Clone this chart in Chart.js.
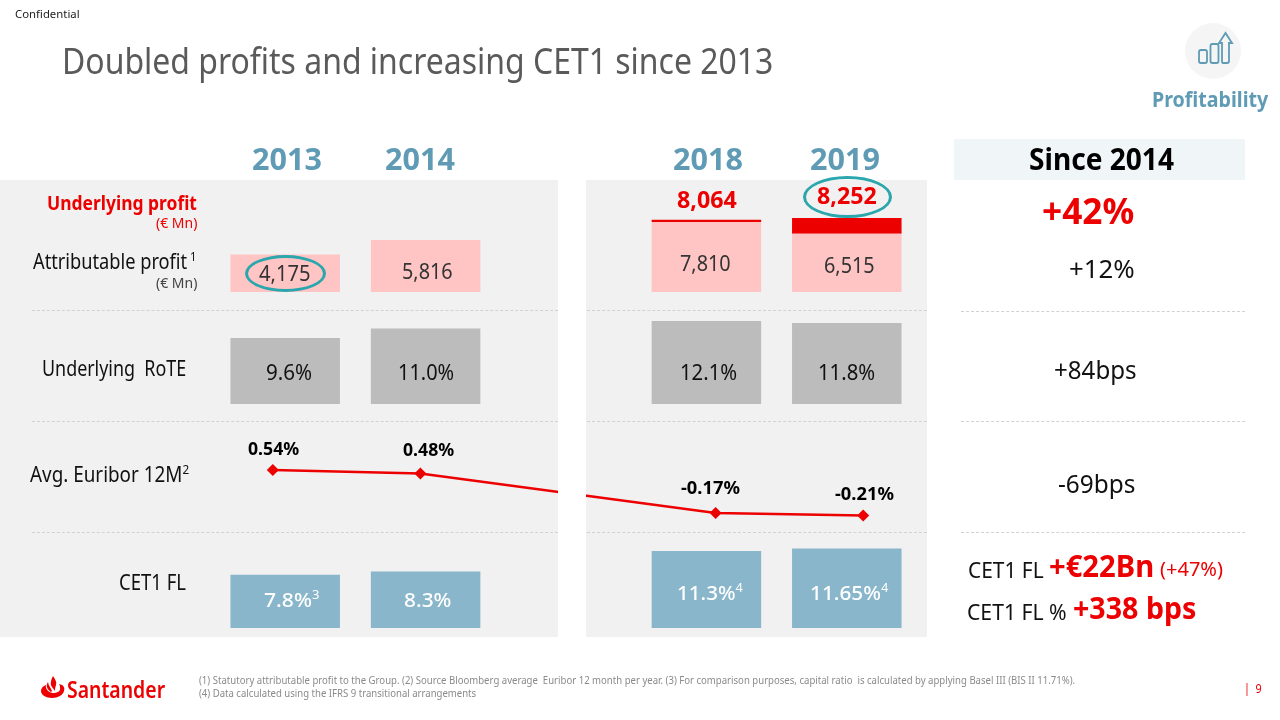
<!DOCTYPE html>
<html>
<head>
<meta charset="utf-8">
<title>Doubled profits</title>
<script src="https://cdn.jsdelivr.net/npm/chart.js@4"></script>
<style>
  html, body { margin: 0; padding: 0; background: #fff; }
  #page { position: relative; width: 1280px; height: 720px; overflow: hidden; font-family: "Noto Sans", sans-serif; }
  #page canvas { position: absolute; z-index: 1; }
  .box { position: absolute; }
  .dash { position: absolute; height: 0; border-top: 1px dashed #d2d2d2; }
  .txt { position: absolute; white-space: nowrap; z-index: 3; line-height: 1.2; transform-origin: 0 50%; }
  .txt sup { font-size: 62%; line-height: 0; vertical-align: 0.65em; font-weight: 400; }
  .oval { position: absolute; border: 3px solid #2aa6ad; border-radius: 50%; box-sizing: border-box; z-index: 4; }
  svg { position: absolute; left: 0; top: 0; z-index: 2; }
</style>
</head>
<body>
<div id="page">
  <div class="box" style="left:0;top:180px;width:558px;height:457px;background:#f1f1f1"></div>
  <div class="box" style="left:586px;top:180px;width:341px;height:457px;background:#f1f1f1"></div>
  <div class="box" style="left:954px;top:139px;width:291px;height:41px;background:#f0f5f8"></div>
  <div class="dash" style="left:32px;top:310px;width:526px"></div>
  <div class="dash" style="left:32px;top:421px;width:526px"></div>
  <div class="dash" style="left:32px;top:532px;width:526px"></div>
  <div class="dash" style="left:587px;top:310px;width:340px"></div>
  <div class="dash" style="left:587px;top:421px;width:340px"></div>
  <div class="dash" style="left:587px;top:532px;width:340px"></div>
  <div class="dash" style="left:961px;top:311px;width:284px"></div>
  <div class="dash" style="left:961px;top:421px;width:284px"></div>
  <div class="dash" style="left:961px;top:532px;width:284px"></div>

  <canvas id="profitChart" width="702" height="112" style="left:215px;top:180px"></canvas>
  <canvas id="roteChart" width="702" height="92" style="left:215px;top:312px"></canvas>
  <canvas id="euriborChart" width="738" height="105" style="left:199px;top:425px"></canvas>
  <canvas id="cetChart" width="702" height="92" style="left:215px;top:536px"></canvas>

  <!-- the line is cut between the two panels -->
  <div class="box" style="left:558px;top:425px;width:28px;height:105px;background:#fff;z-index:2"></div>

  <div class="oval" style="left:245px;top:255px;width:81px;height:37px"></div>
  <div class="oval" style="left:803px;top:176px;width:89px;height:42px"></div>

  <svg width="1280" height="720">
    <circle cx="1213" cy="51" r="28" fill="#f5f5f5"/>
    <g fill="none" stroke="#5f9bb5" stroke-width="1.8">
      <rect x="1199" y="50" width="8" height="13" rx="2"/>
      <rect x="1210.5" y="44" width="8" height="19" rx="2"/>
      <path d="M1223 63 h4 q2 0 2 -2 V43 h3 L1225.5 33 L1219 43 h3 V61 q0 2 1 2 z"/>
    </g>
    <g fill="#ec0000">
      <path d="M53 676 c2 3 4 6 3 9 c-1 3 -1 4 -1 6 c-3 -4 -5 -6 -4 -9 c0 -2 1 -4 2 -6 z"/>
      <path d="M48 682 c0 3 3 6 4 9 l-1 1 c-3 -2 -5 -5 -4 -8 z"/>
      <path d="M59 684 c5 1 6 4 5 7 c-1 4 -6 7 -12 7 c-6 0 -11 -3 -11 -7 c0 -3 2 -5 5 -6 c-1 4 3 8 7 8 c4 0 8 -2 7 -5 c0 -1 0 -3 -1 -4 z"/>
    </g>
  </svg>
</div>

<script>
// values
const years = ["2013", "2014", "", "2018", "2019"];
const attributableProfit = [4175, 5816, null, 7810, 6515];
const underlyingExtra = [null, null, null, 254, 1737];
const underlyingProfit = [null, null, null, 8064, 8252];
const underlyingRote = [9.6, 11.0, null, 12.1, 11.8];
const avgEuribor = [0.54, 0.48, null, -0.17, -0.21];
const cet1 = [7.8, 8.3, null, 11.3, 11.65];

const RED = "#ec0000";
const PINK = "#ffc4c4";
const GREY = "#bcbcbc";
const BLUE = "#89b6ca";
const TEAL = "#5f9bb5";
const DARK = "#333333";

function commonOptions(yMin, yMax, stacked) {
    return {
        responsive: false,
        animation: false,
        events: [],
        layout: { padding: 0, autoPadding: false },
        plugins: { legend: { display: false }, tooltip: { enabled: false } },
        scales: {
            x: { display: false, stacked: stacked, offset: true },
            y: { display: false, stacked: stacked, min: yMin, max: yMax }
        }
    };
}

function barSet(data, color) {
    return { data: data, backgroundColor: color, categoryPercentage: 1, barPercentage: 0.78 };
}

new Chart(document.getElementById("profitChart"), {
    type: "bar",
    data: { labels: years, datasets: [barSet(attributableProfit, PINK), barSet(underlyingExtra, RED)] },
    options: commonOptions(0, 12500, true)
});

new Chart(document.getElementById("roteChart"), {
    type: "bar",
    data: { labels: years, datasets: [barSet(underlyingRote, GREY)] },
    options: commonOptions(0, 13.4, false)
});

new Chart(document.getElementById("euriborChart"), {
    type: "line",
    data: {
        labels: years,
        datasets: [{
            data: avgEuribor,
            borderColor: RED,
            borderWidth: 2.5,
            tension: 0,
            spanGaps: true,
            pointStyle: "rectRot",
            pointRadius: 6,
            pointBackgroundColor: RED,
            pointBorderColor: RED,
            pointBorderWidth: 0
        }]
    },
    options: commonOptions(-0.449, 1.28, false)
});

new Chart(document.getElementById("cetChart"), {
    type: "bar",
    data: { labels: years, datasets: [barSet(cet1, BLUE)] },
    options: commonOptions(0, 13.5, false)
});

// text is stretched a little so that it fills the same span as in the slide
function put(html, left, right, cy, size, color, weight) {
    const el = document.createElement("div");
    el.className = "txt";
    el.innerHTML = html;
    el.style.fontSize = size + "px";
    el.style.color = color;
    if (weight) el.style.fontWeight = weight;
    document.getElementById("page").appendChild(el);
    el.style.left = left + "px";
    el.style.top = (cy - el.offsetHeight / 2 - size * 0.015) + "px";
    el.style.transform = "scaleX(" + ((right - left) / el.offsetWidth) + ")";
}

function money(v) { return v.toLocaleString("en-US"); }
function pct(v, digits) { return v.toFixed(digits) + "%"; }

const B = 700;

put("Confidential", 15, 80, 14, 11, "#222");
put("Doubled profits and increasing CET1 since 2013", 62, 773, 61, 36, "#5a5a5a");
put("Profitability", 1152, 1268, 98, 22, TEAL, B);

put(years[0], 252, 322, 159, 31, TEAL, B);
put(years[1], 385, 455, 159, 31, TEAL, B);
put(years[3], 673, 743, 159, 31, TEAL, B);
put(years[4], 810, 880, 159, 31, TEAL, B);
put("Since 2014", 1029, 1174, 159, 31, "#000", B);

put("Underlying profit", 47, 197, 203, 20, RED, B);
put("(€ Mn)", 156, 197, 224, 14, RED);
put("Attributable profit<sup> 1</sup>", 33, 197, 262, 21, "#111");
put("(€ Mn)", 156, 197, 284, 14, "#444");
put("Underlying&nbsp; RoTE", 42, 186, 369, 21, "#111");
put("Avg. Euribor 12M<sup>2</sup>", 30, 189, 475, 21, "#111");
put("CET1 FL", 119, 186, 583, 21, "#111");

put(money(attributableProfit[0]), 259, 311, 274, 21, DARK);
put(money(attributableProfit[1]), 402, 453, 272, 21, DARK);
put(money(attributableProfit[3]), 680, 731, 264, 21, DARK);
put(money(attributableProfit[4]), 824, 875, 266, 21, DARK);
put(money(underlyingProfit[3]), 677, 737, 200, 24, RED, B);
put(money(underlyingProfit[4]), 817, 877, 196, 24, RED, B);

put(pct(underlyingRote[0], 1), 266, 312, 373, 21, "#111");
put(pct(underlyingRote[1], 1), 398, 454, 373, 21, "#111");
put(pct(underlyingRote[3], 1), 680, 737, 373, 21, "#111");
put(pct(underlyingRote[4], 1), 818, 875, 373, 21, "#111");

put(pct(avgEuribor[0], 2), 248, 299, 449, 18, "#000", B);
put(pct(avgEuribor[1], 2), 403, 454, 450, 18, "#000", B);
put(pct(avgEuribor[3], 2), 681, 740, 488, 18, "#000", B);
put(pct(avgEuribor[4], 2), 835, 894, 494, 18, "#000", B);

put(pct(cet1[0], 1) + "<sup>3</sup>", 264, 319, 600, 20, "#fff", 500);
put(pct(cet1[1], 1), 404, 451, 600, 20, "#fff", 500);
put(pct(cet1[3], 1) + "<sup>4</sup>", 677, 743, 593, 20, "#fff", 500);
put(pct(cet1[4], 2) + "<sup>4</sup>", 810, 888, 593, 20, "#fff", 500);

put("+42%", 1042, 1134, 211, 36, RED, B);
put("+12%", 1069, 1135, 268, 25, "#111");
put("+84bps", 1054, 1137, 369, 25, "#111");
put("-69bps", 1058, 1135, 483, 25, "#111");
put("CET1 FL", 968, 1044, 569, 22, "#111");
put("+€22Bn", 1049, 1154, 566, 30, RED, B);
put("(+47%)", 1160, 1223, 569, 20, RED);
put("CET1 FL %", 967, 1067, 611, 22, "#111");
put("+338 bps", 1073, 1196, 608, 30, RED, B);

put("Santander", 67, 165, 690, 23, RED, 600);
put("(1) Statutory attributable profit to the Group. (2) Source Bloomberg average&nbsp; Euribor 12 month per year. (3) For comparison purposes, capital ratio&nbsp; is calculated by applying Basel III (BIS II 11.71%).", 199, 1075, 681, 10.5, "#8a8a8a");
put("(4) Data calculated using the IFRS 9 transitional arrangements", 199, 476, 694, 10.5, "#8a8a8a");
put("|&nbsp; 9", 1244, 1262, 689, 12, RED);
</script>
</body>
</html>
